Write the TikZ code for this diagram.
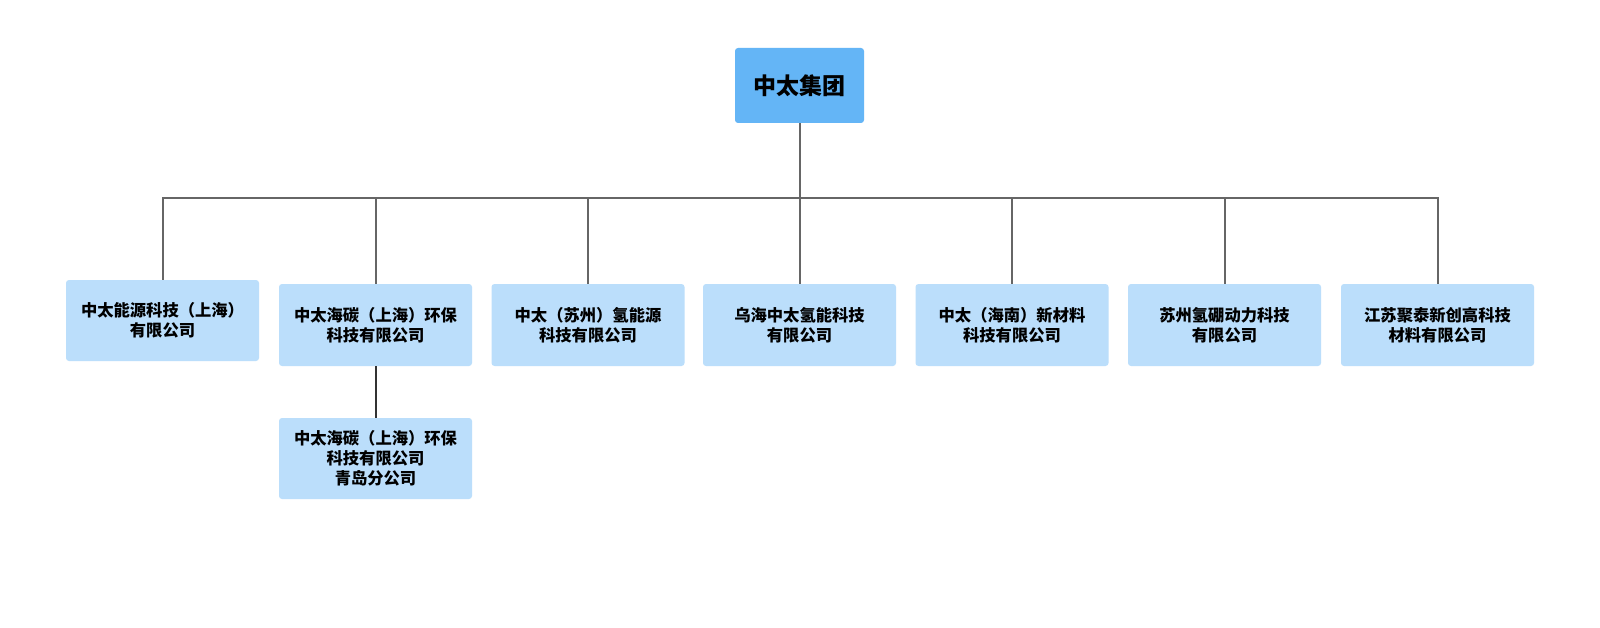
\documentclass[tikz,border=0pt]{standalone}
\usepackage{fontspec}
\setmainfont{Noto Sans CJK SC}
\begin{document}
\begin{tikzpicture}[x=1pt,y=-1pt,
  rootbox/.style={fill=rootblue,rounded corners=3pt,minimum width=129pt,minimum height=75pt,
    font=\fontsize{23}{27}\selectfont\bfseries,inner sep=0pt},
  subbox/.style={fill=subblue,rounded corners=3pt,minimum width=193pt,minimum height=82pt,
    align=center,font=\fontsize{16.3}{20}\selectfont\bfseries,inner sep=0pt},
  link/.style={draw=linegray,line width=2pt},
  sublink/.style={draw=linedark,line width=2pt}]
\definecolor{rootblue}{HTML}{64B5F6}
\definecolor{subblue}{HTML}{BBDEFB}
\definecolor{linegray}{HTML}{666666}
\definecolor{linedark}{HTML}{333333}
\useasboundingbox[fill=white] (0,0) rectangle (1600,628);
\node[rootbox] (root) at (799.5,85.5) {中太集团};
\coordinate (bus) at (799.5,198);
\node[subbox,minimum height=81pt] (c1) at (162.5,320.5) {中太能源科技（上海）\\有限公司};
\node[subbox] (c2) at (375.5,325) {中太海碳（上海）环保\\科技有限公司};
\node[subbox] (c3) at (588,325) {中太（苏州）氢能源\\科技有限公司};
\node[subbox] (c4) at (799.5,325) {乌海中太氢能科技\\有限公司};
\node[subbox] (c5) at (1012,325) {中太（海南）新材料\\科技有限公司};
\node[subbox] (c6) at (1224.5,325) {苏州氢硼动力科技\\有限公司};
\node[subbox] (c7) at (1437.5,325) {江苏聚泰新创高科技\\材料有限公司};
\node[subbox,minimum height=81pt] (c2a) at (375.5,458.5) {中太海碳（上海）环保\\科技有限公司\\青岛分公司};
\draw[link] (root.south) -- (bus);
\foreach \n in {c1,c2,c3,c4,c5,c6,c7}{
  \draw[link] (bus) -| (\n.north);
}
\draw[sublink] (c2.south) -- (c2a.north);
\end{tikzpicture}
\end{document}
